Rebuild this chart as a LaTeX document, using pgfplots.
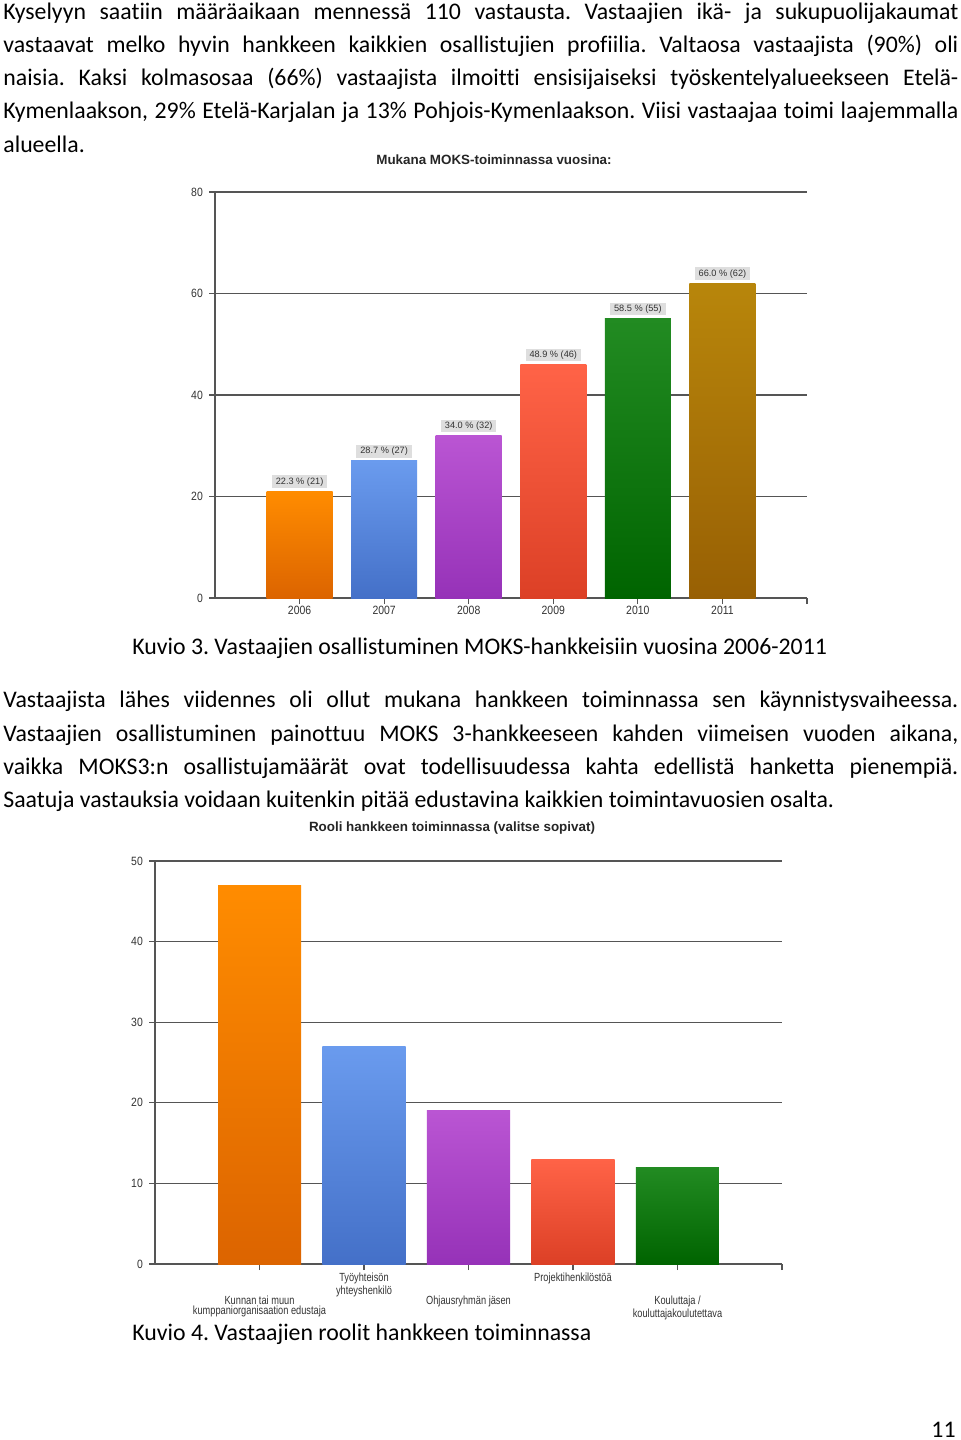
\documentclass[border=0pt]{standalone}
\usepackage{fontspec}
\setmainfont{Carlito}[Ligatures=NoCommon]
\newfontfamily\arial{Liberation Sans}
\usepackage{pgfplots}
\pgfplotsset{compat=1.18}
\frenchspacing

\definecolor{orT}{HTML}{FF8C00}\definecolor{orB}{HTML}{DC6400}
\definecolor{blT}{HTML}{6A9BEE}\definecolor{blB}{HTML}{4470C8}
\definecolor{puT}{HTML}{BA55D3}\definecolor{puB}{HTML}{9632B8}
\definecolor{reT}{HTML}{FF6347}\definecolor{reB}{HTML}{DC4026}
\definecolor{grT}{HTML}{228B22}\definecolor{grB}{HTML}{006400}
\definecolor{goT}{HTML}{B8860B}\definecolor{goB}{HTML}{986004}
\definecolor{axisgray}{HTML}{555555}
\definecolor{labgray}{HTML}{333333}

\newcommand{\bodyfont}{\fontsize{11.9pt}{13pt}\selectfont}
\newcommand{\jl}[2]{\node[anchor=base west, inner sep=0pt, font=\bodyfont] at (3,#1) {\makebox[477.5pt][s]{#2}};}
\newcommand{\pl}[3]{\node[anchor=base west, inner sep=0pt, font=\bodyfont] at (#1,#2) {#3};}

\pgfplotsset{
  pagechart/.style={
    scale only axis,
    axis x line*=bottom, axis y line*=left,
    axis line style={-, draw=axisgray, line width=0.7pt},
    ymajorgrids, major grid style={draw=axisgray, line width=0.65pt},
    tick style={draw=axisgray, line width=0.6pt},
    tick align=outside, major tick length=3pt,
    /pgf/number format/assume math mode=true,
    ticklabel style={font=\arial\fontsize{6}{6}\selectfont, text=labgray, xscale=0.87},
    clip=false,
  },
  shbar/.style n args={2}{ybar, bar shift=0pt, draw=none, top color=#1, bottom color=#2},
}

\begin{document}
\begin{tikzpicture}[x=0.5pt, y=-0.5pt]
\useasboundingbox (0,0) rectangle (960,1440);
\fill[white] (0,0) rectangle (960,1440);

% paragraph 1
\jl{19}{Kyselyyn saatiin määräaikaan mennessä 110 vastausta. Vastaajien ikä- ja sukupuolijakaumat}
\jl{52}{vastaavat melko hyvin hankkeen kaikkien osallistujien profiilia. Valtaosa vastaajista (90\%) oli}
\jl{85}{naisia. Kaksi kolmasosaa (66\%) vastaajista ilmoitti ensisijaiseksi työskentelyalueekseen Etelä-}
\jl{118}{Kymenlaakson, 29\% Etelä-Karjalan ja 13\% Pohjois-Kymenlaakson. Viisi vastaajaa toimi laajemmalla}
\pl{3}{152}{alueella.}

% chart 1
\node[font=\arial\bfseries\fontsize{6.7}{7}\selectfont, text=black!85] at (494,160) {Mukana MOKS-toiminnassa vuosina:};
\coordinate (c1) at (215,598);
\begin{axis}[pagechart, at={(c1)}, anchor=south west,
  width=296pt, height=203pt,
  xmin=-1, xmax=6, ymin=0, ymax=80,
  ytick={0,20,40,60,80},
  xtick={0,1,2,3,4,5,6},
  xticklabels={2006,2007,2008,2009,2010,2011,{}},
  xticklabel style={yshift=2.5pt},
  bar width=33pt,
  point meta=explicit symbolic,
  nodes near coords={\pgfplotspointmeta},
  every node near coord/.append style={font=\arial\fontsize{4.6}{5}\selectfont, text=labgray, fill=black!13, inner xsep=2pt, inner ysep=1pt, anchor=south, yshift=1.5pt},
]
\addplot[shbar={orT}{orB}] coordinates {(0,21) [22.3 \% (21)]};
\addplot[shbar={blT}{blB}] coordinates {(1,27) [28.7 \% (27)]};
\addplot[shbar={puT}{puB}] coordinates {(2,32) [34.0 \% (32)]};
\addplot[shbar={reT}{reB}] coordinates {(3,46) [48.9 \% (46)]};
\addplot[shbar={grT}{grB}] coordinates {(4,55) [58.5 \% (55)]};
\addplot[shbar={goT}{goB}] coordinates {(5,62) [66.0 \% (62)]};
\end{axis}

\pl{132}{654}{Kuvio 3. Vastaajien osallistuminen MOKS-hankkeisiin vuosina 2006-2011}

% paragraph 2
\jl{707}{Vastaajista lähes viidennes oli ollut mukana hankkeen toiminnassa sen käynnistysvaiheessa.}
\jl{741}{Vastaajien osallistuminen painottuu MOKS 3-hankkeeseen kahden viimeisen vuoden aikana,}
\jl{774}{vaikka MOKS3:n osallistujamäärät ovat todellisuudessa kahta edellistä hanketta pienempiä.}
\pl{3}{807}{Saatuja vastauksia voidaan kuitenkin pitää edustavina kaikkien toimintavuosien osalta.}

% chart 2
\node[font=\arial\bfseries\fontsize{6.7}{7}\selectfont, text=black!85] at (452,828) {Rooli hankkeen toiminnassa (valitse sopivat)};
\coordinate (c2) at (155,1264);
\begin{axis}[pagechart, at={(c2)}, anchor=south west,
  width=313.5pt, height=201.5pt,
  xmin=-1, xmax=5, ymin=0, ymax=50,
  ytick={0,10,20,30,40,50},
  xtick={1,3,5},
  xticklabels={{Työyhteisön\\yhteyshenkilö},Projektihenkilöstöä,{}},
  extra x ticks={0,2,4},
  extra x tick labels={{Kunnan tai muun\\kumppaniorganisaation edustaja},Ohjausryhmän jäsen,{Kouluttaja /\\kouluttajakoulutettava}},
  xticklabel style={font=\arial\fontsize{5.9}{4.9}\selectfont, align=center, xscale=0.9, yshift=2pt},
  extra x tick style={xticklabel style={yshift=-11.5pt}},
  bar width=41.5pt,
]
\addplot[shbar={orT}{orB}] coordinates {(0,47)};
\addplot[shbar={blT}{blB}] coordinates {(1,27)};
\addplot[shbar={puT}{puB}] coordinates {(2,19)};
\addplot[shbar={reT}{reB}] coordinates {(3,13)};
\addplot[shbar={grT}{grB}] coordinates {(4,12)};
\end{axis}

\pl{132}{1340}{Kuvio 4. Vastaajien roolit hankkeen toiminnassa}
\node[anchor=base east, inner sep=0pt, font=\bodyfont] at (956,1437) {11};
\end{tikzpicture}
\end{document}
